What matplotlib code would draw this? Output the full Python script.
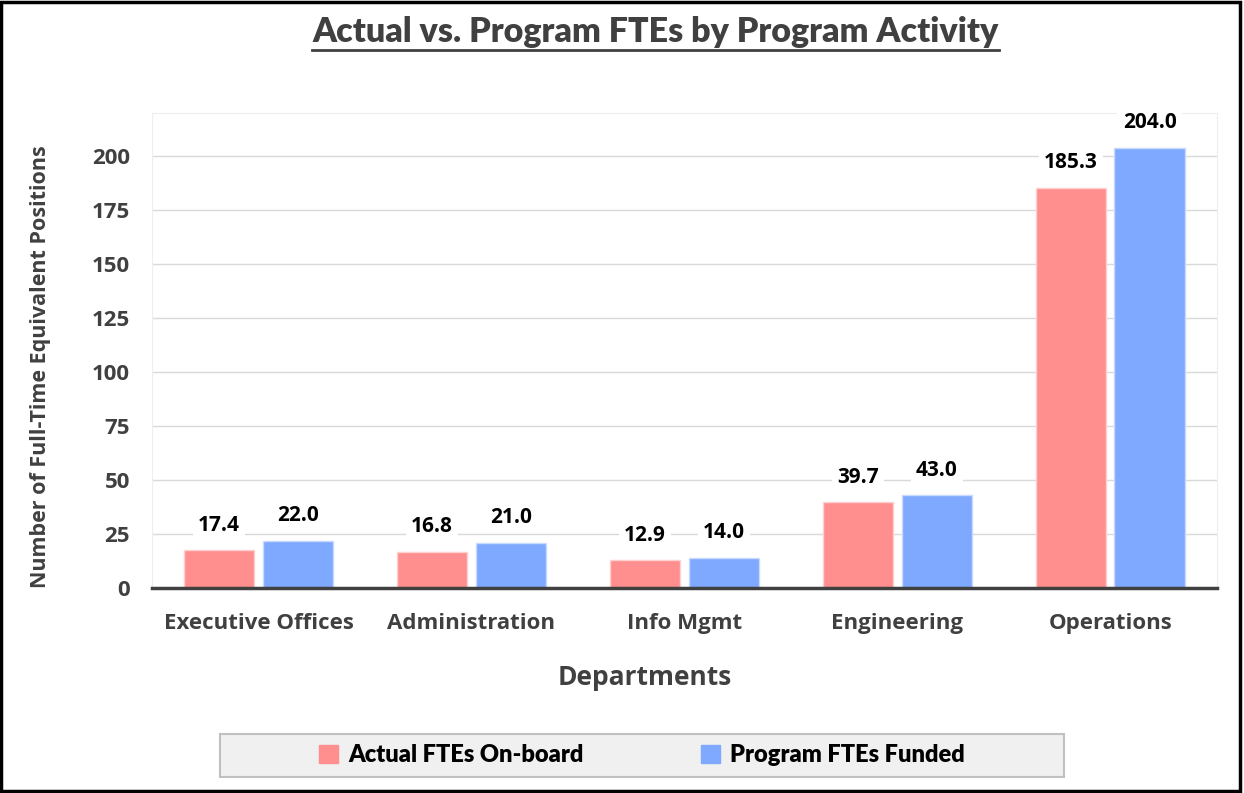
import matplotlib.pyplot as plt
import numpy as np
from matplotlib.patches import Rectangle
from matplotlib.lines import Line2D

departments = ["Executive Offices", "Administration", "Info Mgmt", "Engineering", "Operations"]
actual_ftes = [17.4, 16.8, 12.9, 39.7, 185.3]
program_ftes = [22.0, 21.0, 14.0, 43.0, 204.0]
series_names = ["Actual FTEs On-board", "Program FTEs Funded"]
yticks = [0, 25, 50, 75, 100, 125, 150, 175, 200]

red = "#ff8f8f"
blue = "#7ea9ff"
txt = "#404040"
font = "Open Sans"
narrow = ["Lato", "DejaVu Sans"]

fig = plt.figure(figsize=(12.44, 7.93), dpi=100)
ax = fig.add_axes([0.1222, 0.2585, 0.8558, 0.599])

x = np.arange(len(departments))
w = 0.33
b1 = ax.bar(x - 0.185, actual_ftes, w, color=red, edgecolor="#ffd0d0", linewidth=1, zorder=3)
b2 = ax.bar(x + 0.185, program_ftes, w, color=blue, edgecolor="#c8dbff", linewidth=1, zorder=3)

for bars, vals in [(b1, actual_ftes), (b2, program_ftes)]:
    for bar, v in zip(bars, vals):
        ax.annotate(f"{v:.1f}", (bar.get_x() + bar.get_width() / 2, v),
                    xytext=(0, 18), textcoords="offset points", ha="center", va="center",
                    fontsize=15, fontweight="bold", family=font, color="black", zorder=5,
                    bbox=dict(boxstyle="square,pad=0.25", fc="white", ec="none"))

ax.set_xlim(-0.5, len(departments) - 0.5)
ax.set_ylim(0, 220)
ax.set_yticks(yticks)
ax.set_xticks(x)
ax.set_xticklabels(departments)
ax.grid(axis="y", color="#d9d9d9", linewidth=1, zorder=0)
ax.tick_params(axis="both", length=0, labelsize=16, labelcolor=txt)
ax.tick_params(axis="x", pad=18)
ax.tick_params(axis="y", pad=16)
for lab in ax.get_xticklabels() + ax.get_yticklabels():
    lab.set_fontweight("bold")
    lab.set_family(font)
for s in ["left", "right", "top"]:
    ax.spines[s].set_color("#eeeeee")
ax.spines["bottom"].set_color("#404040")
ax.spines["bottom"].set_linewidth(2.5)
ax.spines["bottom"].set_zorder(4)

ax.set_xlabel("Departments", fontsize=19, fontweight="bold", family=font, color=txt, va="center")
ax.xaxis.set_label_coords(0.463, -0.189)
ax.set_ylabel("Number of Full-Time Equivalent Positions", fontsize=15.5, fontweight="bold",
              family=font, color=txt, va="center")
ax.yaxis.set_label_coords(-0.105, 0.467)

title = fig.text(0.527, 0.960, "Actual vs. Program FTEs by Program Activity", ha="center", va="center",
                 fontsize=24.5, fontweight="heavy", family=narrow, color=txt)
fig.canvas.draw()
bb = title.get_window_extent().transformed(fig.transFigure.inverted())
fig.add_artist(Line2D([bb.x0, bb.x1], [bb.y0 - 0.003, bb.y0 - 0.003], color=txt, linewidth=2,
                      transform=fig.transFigure))

# legend box
fig.add_artist(Rectangle((0.177, 0.02), 0.678, 0.055, transform=fig.transFigure,
                         facecolor="#f0f0f0", edgecolor="#c0c0c0", linewidth=1.5))
handles = [Rectangle((0, 0), 1, 1, color=red), Rectangle((0, 0), 1, 1, color=blue)]
fig.legend(handles, series_names, loc="center", bbox_to_anchor=(0.516, 0.048), ncol=2,
           frameon=False, handlelength=0.8, handleheight=0.8, handletextpad=0.4, columnspacing=5,
           prop=dict(family=narrow, weight="heavy", size=17))

# outer border
fig.add_artist(Rectangle((0.001, 0.002), 0.996, 0.995, transform=fig.transFigure,
                         fill=False, edgecolor="black", linewidth=2.5))

fig.savefig("out.png", dpi=100)
